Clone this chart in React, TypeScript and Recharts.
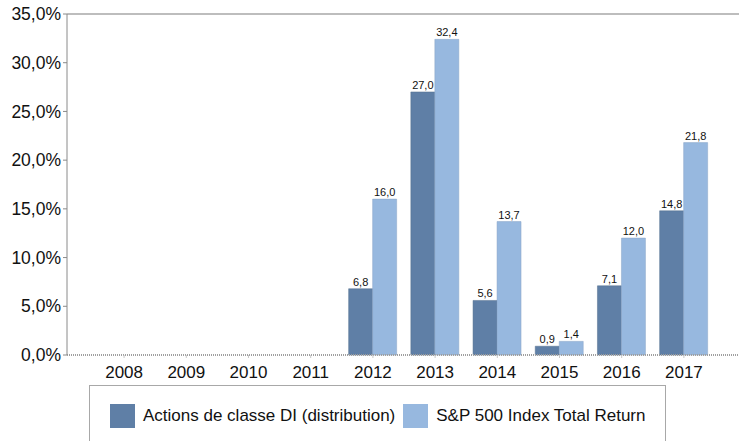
import React from 'react'
import { BarChart, Bar, XAxis, YAxis, LabelList, ReferenceLine } from 'recharts'

const YEARS = ['2008', '2009', '2010', '2011', '2012', '2013', '2014', '2015', '2016', '2017']
const CLASS_DI = [null, null, null, null, 6.8, 27.0, 5.6, 0.9, 7.1, 14.8]
const SP500 = [null, null, null, null, 16.0, 32.4, 13.7, 1.4, 12.0, 21.8]
const Y_TICKS = [0, 5, 10, 15, 20, 25, 30, 35]

const SERIES_NAMES = ['Actions de classe DI (distribution)', 'S&P 500 Index Total Return']
const DARK = '#5f7fa6'
const LIGHT = '#97b8df'
const FONT = '"Liberation Sans", Arial, sans-serif'

const data = YEARS.map((year, i) => ({ year, di: CLASS_DI[i], sp: SP500[i] }))

const fmt = (v: any) => (v == null ? '' : Number(v).toFixed(1).replace('.', ','))

export default function App() {
  return (
    <div style={{ position: 'absolute', left: 0, top: 0, width: 739, height: 441, background: '#fff', overflow: 'hidden', fontFamily: FONT }}>
      <BarChart
        width={739}
        height={441}
        data={data}
        margin={{ top: 14, right: 0, left: 0, bottom: 0 }}
        barGap={0}
        barCategoryGap="11%"
      >
        <XAxis
          dataKey="year"
          height={86}
          padding={{ left: 26, right: 24 }}
          stroke="#a0a0a0"
          strokeDasharray="1 1"
          strokeWidth={2}
          tickLine={{ stroke: '#c8c8c8', strokeDasharray: 'none', strokeWidth: 1 }}
          tickSize={3}
          tick={{ fill: '#111', fontSize: 17, fontFamily: FONT, dy: 6 }}
        />
        <YAxis
          width={67}
          domain={[0, 35]}
          ticks={Y_TICKS}
          interval={0}
          stroke="#8a8a8a"
          tickSize={4}
          tickFormatter={(v) => `${fmt(v)}%`}
          tick={{ fill: '#111', fontSize: 17.5, fontFamily: FONT }}
        />
        <ReferenceLine y={35} stroke="#bdbdbd" strokeWidth={2} />
        <Bar dataKey="di" name={SERIES_NAMES[0]} fill={DARK} stroke="#55708f" strokeWidth={0.5} isAnimationActive={false}>
          <LabelList dataKey="di" position="top" offset={3} formatter={fmt} style={{ fill: '#111', fontSize: 11, fontFamily: FONT }} />
        </Bar>
        <Bar dataKey="sp" name={SERIES_NAMES[1]} fill={LIGHT} stroke="#8aa5c6" strokeWidth={0.5} isAnimationActive={false}>
          <LabelList dataKey="sp" position="top" offset={3} formatter={fmt} style={{ fill: '#111', fontSize: 11, fontFamily: FONT }} />
        </Bar>
      </BarChart>

      {/* legend box, cut off by the bottom edge like the original */}
      <div
        style={{
          position: 'absolute',
          left: 89,
          top: 385,
          width: 577,
          height: 80,
          border: '1px solid #a8a8a8',
          boxSizing: 'border-box',
        }}
      >
        <div style={{ position: 'absolute', left: 20, top: 18, display: 'flex', alignItems: 'center', whiteSpace: 'nowrap' }}>
          <span style={{ width: 25, height: 24, background: DARK, display: 'inline-block' }} />
          <span style={{ marginLeft: 8, fontSize: 17, color: '#111' }}>{SERIES_NAMES[0]}</span>
          <span style={{ width: 25, height: 24, background: LIGHT, display: 'inline-block', marginLeft: 8 }} />
          <span style={{ marginLeft: 8, fontSize: 17, color: '#111' }}>{SERIES_NAMES[1]}</span>
        </div>
      </div>
    </div>
  )
}
